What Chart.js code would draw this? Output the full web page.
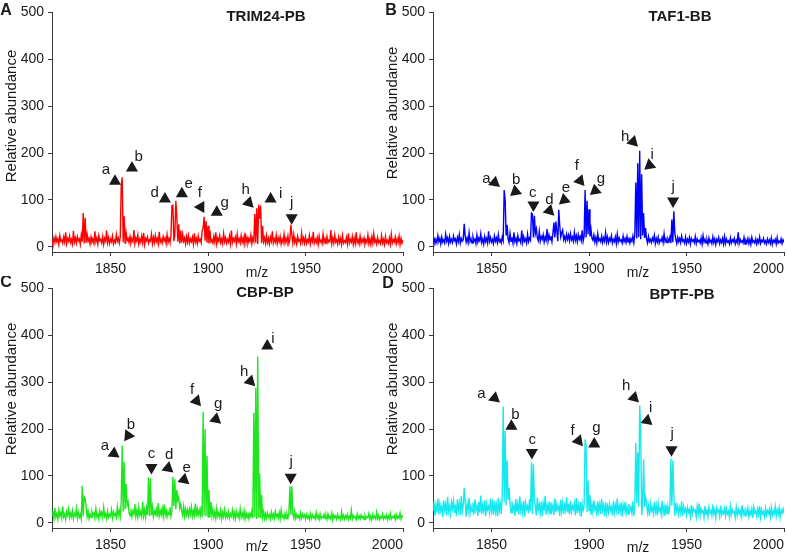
<!DOCTYPE html>
<html><head><meta charset="utf-8">
<script src="https://cdn.jsdelivr.net/npm/chart.js@4.4.1/dist/chart.umd.min.js"></script>
<style>
html,body{margin:0;padding:0;background:#fff;width:787px;height:552px;overflow:hidden;position:relative}
canvas{position:absolute}
</style></head><body>
<canvas id="cA" width="425" height="282" style="left:0;top:0"></canvas>
<canvas id="cB" width="425" height="282" style="left:381px;top:0"></canvas>
<canvas id="cC" width="425" height="282" style="left:0;top:276px"></canvas>
<canvas id="cD" width="425" height="282" style="left:381px;top:276px"></canvas>
<script>
// ---------- data ----------
const MZ0 = 1820, MZSTEP = 0.5;           // spectra sampled every 0.5 m/z from 1820
const xTicks = [1820, 1850, 1900, 1950, 2000];
const yTicks = [0, 100, 200, 300, 400, 500];

// A: TRIM24-PB
const trimNoise = [
14,6,19,9,22,11,17,5,24,12,15,8,21,10,31,7,18,12,23,9,
16,6,34,10,19,8,22,13,17,5,25,11,14,7,20,9,27,12,18,6,
21,10,15,7,33,11,19,6,24,13,16,8,22,5,18,12,35,9,20,7,
17,11,23,6,14,9,26,12,19,8,21,7,15,10,28,6,24,13,18,9,
22,8,16,11,36,7,19,12,25,6,17,10,23,9,30,5,18,13,21,8,
15,12,27,7,20,9,24,11,18,6,32,10,16,8,22,13,19,7,26,9,
18,10,23,6,17,12,25,8,20,11,33,7,16,9,27,12,19,6,22,10,
24,8,17,11,21,6,29,10,18,7,23,12,16,9,34,8,20,13,25,9,
19,7,26,11,15,8,22,10,31,6,18,12,24,9,17,7,28,11,20,8,
16,10,23,7,35,9,18,12,21,6,27,11,17,8,24,10,19,6,30,9,
20,8,17,11,25,7,19,12,22,9,18,6,26,10,16,8,23,11,19,7,
24,9,18,6,21,12,33,8,17,10,25,7,19,11,22,6,16,9,27,8,
18,10,23,7,16,11,20,8,26,9,17,6,22,12,15,7,29,10,19,8,
21,7,15,10,24,6,18,11,32,8,16,9,20,5,23,10,14,7,27,9,
17,6,22,9,14,11,36,7,19,8,25,10,15,6,21,9,18,5,24,8,
13,9,20,6,29,8,16,10,22,5,18,7,31,9,15,6,23,8,17,10,
19,6,14,9,25,7,17,5,21,8,28,10,15,6,20,9,13,7,24,8,
16,5,22,9,14,7,19,6,27,8,15,10,21,6,17,9,23,5,18,8,
14];
const trimPeakMz  = [1836,1837,1855.5,1856,1857,1858,1881.5,1882,1883.5,1884,1885,1886,1897.5,1898,1899,1900,1901,1924,1925,1926,1926.5,1927,1928,1942.5,1943];
const trimPeakVal = [72,  62,  130,   148, 65,  30,  88,    89,  98,    65,  48,  35,  40,    64,  55,  45,  35,  70,  82,  90,  60,    88,  45,  47,    26];
const trimMarks = [
 ['a',1852.3,140,30,1847.6,164],['b',1861.0,168,150,1864.5,191],['d',1877.9,102,30,1872.7,115],
 ['e',1886.6,113,150,1890.1,134],['f',1896.3,85,60,1895.8,115],['g',1904.5,74,150,1908.6,94],
 ['h',1920.9,94,45,1919.3,121],['i',1932.1,102,150,1937.3,113],['j',1942.9,62,90,1942.9,94]];

// B: TAF1-BB
const tafNoise = [
12,20,7,16,9,24,11,18,6,21,10,15,8,27,12,19,7,22,10,16,
9,23,13,17,6,20,11,26,8,18,12,15,7,24,10,19,9,30,11,17,
8,21,12,16,7,25,10,19,13,28,9,17,6,22,11,18,8,33,12,20,
10,16,7,23,12,19,9,26,11,15,8,21,13,18,6,24,10,17,9,29,
12,20,8,31,11,18,7,24,13,16,9,35,10,22,12,17,8,27,11,19,
14,24,10,20,15,28,11,19,13,33,12,22,16,26,10,21,14,38,12,25,
15,23,11,29,13,20,17,34,12,24,14,21,11,36,15,22,13,27,16,25,
13,28,15,21,12,31,14,24,11,26,16,22,13,35,12,23,15,20,11,27,
12,22,9,18,14,25,10,20,8,28,13,17,11,23,9,19,12,30,10,21,
9,18,13,24,8,16,11,21,7,27,10,19,12,15,8,23,11,18,9,22,
10,20,8,17,12,23,9,26,11,18,7,21,13,16,10,24,8,19,12,17,
8,22,11,16,9,19,13,25,7,18,10,21,8,15,12,20,9,28,11,17,
9,17,12,21,8,19,10,24,13,16,7,20,11,18,9,23,12,15,8,21,
7,16,10,20,6,18,12,15,9,22,7,17,11,14,8,19,6,24,10,16,
8,15,6,19,10,14,7,21,9,17,5,16,11,20,7,15,9,18,6,22,
7,17,10,13,6,19,8,15,11,18,6,14,9,31,7,16,10,13,8,20,
6,14,9,18,7,16,5,20,10,13,8,17,6,15,9,21,7,14,11,18,
8,13,6,17,9,15,7,19,5,14,10,16,6,20,8,12,9,17,7,15,
10];
const tafPeakMz  = [1836,1856.5,1857,1858,1870.5,1871,1872,1873,1882,1883,1884.5,1885,1886,1898,1899,1900,1901,1924,1925,1926,1927,1928,1929,1942.5,1943.5,1944];
const tafPeakVal = [49,  121,   100, 47,  72,    70,  66,  38,  52,  54,  79,    45,  30,  121, 98,  80,  38,  137, 178, 205, 155, 72,  40,  58,    76,    30];
const tafMarks = [
 ['a',1851.6,137,40,1847.4,146],['b',1862.3,118,140,1862.7,143],['c',1871.5,89,90,1871.2,116],
 ['d',1879.7,77,45,1879.7,101],['e',1887.3,100,140,1888.2,125],['f',1895.4,141,50,1893.8,173],
 ['g',1903.2,120,140,1906.1,145],['h',1922.6,224,45,1918.5,235],['i',1931.1,174,140,1932.4,196],
 ['j',1943.1,98,90,1943.1,128]];

// C: CBP-BP
const cbpNoise = [
15,25,9,32,12,20,8,27,14,22,10,35,13,19,7,24,16,29,11,21,
13,26,9,20,15,31,10,23,12,18,8,28,14,22,11,36,13,25,9,19,
12,24,16,21,10,30,13,19,8,26,15,22,11,33,14,20,9,25,12,18,
14,28,10,23,16,20,12,34,15,26,13,44,17,24,11,29,14,38,16,22,
15,30,13,25,18,40,14,27,12,33,16,24,13,45,15,28,11,32,17,26,
14,27,16,34,13,25,18,29,12,42,15,26,17,31,14,39,16,28,13,24,
17,33,14,27,19,36,15,29,16,48,18,31,13,26,16,35,14,30,17,28,
15,29,18,34,14,26,16,41,13,30,17,27,15,35,12,28,16,32,14,25,
13,26,11,22,15,29,12,24,10,31,14,21,12,27,9,23,13,28,11,20,
12,24,10,19,14,27,11,22,9,25,13,20,10,30,12,21,11,26,9,22,
11,22,9,20,13,25,10,18,12,23,8,21,11,26,10,19,12,24,9,20,
10,21,12,17,8,23,11,19,9,24,13,18,10,22,8,27,11,16,9,20,
9,19,11,22,8,17,12,20,10,25,9,18,11,16,8,21,10,19,12,17,
8,18,10,15,7,20,9,17,11,14,8,22,10,16,7,19,9,13,11,18,
9,16,7,19,10,14,8,21,6,17,11,15,8,18,10,13,7,24,9,16,
8,15,10,18,7,14,9,27,8,16,11,13,7,19,9,15,8,17,10,14,
7,16,9,13,11,20,8,15,6,18,10,14,8,23,9,16,7,13,10,19,
8,14,10,17,7,15,9,20,8,13,11,16,7,18,9,14,10,21,8,15,
12];
const cbpPeakMz  = [1835.5,1836.5,1837,1856,1857,1858,1859,1869.5,1870.5,1882,1883,1884,1885,1886,1897.5,1898.5,1899.5,1900.5,1901.5,1923.5,1924.5,1925.5,1926.5,1927.5,1942,1943];
const cbpPeakVal = [79,    56,    52,  165, 130, 83,  45,  97,    95,    98,  93,  70,  55,  40,  237,   200,   143,   70,    45,    235,   288,   355,   105,   60,    78,  78];
const cbpMarks = [
 ['a',1851.7,148,35,1847.1,165],['b',1859.1,186,125,1860.5,210],['c',1871.0,118,90,1871.0,147],
 ['d',1879.5,117,40,1880.1,146],['e',1887.7,92,160,1889.0,117],['f',1894.1,260,50,1891.8,283],
 ['g',1904.0,221,160,1905.2,253],['h',1921.7,302,45,1918.5,322],['i',1930.4,377,150,1933.3,393],
 ['j',1942.4,97,90,1942.7,129]];

// D: BPTF-PB
const bptfNoise = [
28,45,15,38,22,52,18,41,25,35,12,48,27,40,16,55,24,36,19,44,
30,47,21,39,14,50,26,42,17,57,23,37,29,46,13,40,25,53,20,35,
24,43,18,50,27,36,15,45,22,58,19,38,26,48,14,41,28,35,21,52,
26,42,17,47,23,38,14,53,25,40,19,60,22,44,28,37,16,49,24,39,
22,46,27,35,15,51,24,41,18,56,26,38,21,47,13,43,29,36,20,50,
25,40,19,48,23,35,16,54,27,39,21,45,14,42,26,57,18,37,24,46,
20,44,26,37,17,52,23,40,28,35,15,49,25,43,19,38,27,55,22,41,
18,47,24,36,29,42,16,53,21,39,25,45,13,41,27,36,20,50,23,38,
26,43,17,39,22,48,28,35,15,46,24,40,19,51,26,37,14,44,21,36,
23,41,27,34,16,47,22,38,25,52,18,36,24,43,13,39,26,45,20,35,
19,40,25,33,21,46,15,37,27,42,20,35,23,48,17,38,24,34,18,44,
22,36,14,42,26,33,19,45,23,38,16,41,25,31,18,47,21,35,15,39,
20,34,24,40,17,37,22,31,15,43,25,36,19,33,21,46,14,35,23,30,
16,33,22,28,13,38,20,31,24,27,12,35,19,41,15,30,22,26,11,36,
18,29,13,34,21,26,15,39,19,28,10,32,23,27,14,37,17,25,20,31,
14,30,19,25,12,35,17,28,22,24,11,33,16,29,20,26,13,38,18,27,
15,27,20,32,13,25,18,30,11,34,21,26,14,29,17,36,12,28,19,24,
13,31,17,26,20,29,12,33,16,25,19,35,14,28,18,32,11,27,21,30,
20];
const bptfPeakMz  = [1836,1856,1857,1858,1859,1870.5,1871.5,1872,1898,1898.5,1899.5,1900.5,1924,1925,1926,1926.5,1928,1929,1942,1943,1943.5];
const bptfPeakVal = [74,  248, 196, 133, 75,  129,   125,   45,  178, 165,   90,    60,    170, 150, 250, 200,   135, 55,  137, 133, 60];
const bptfMarks = [
 ['a',1851.6,266,40,1844.8,276],['b',1860.2,206,150,1862.3,231],['c',1870.7,150,90,1870.9,176],
 ['f',1894.6,175,50,1891.6,197],['g',1902.7,168,150,1903.8,203],['h',1923.1,267,45,1919.1,292],
 ['i',1929.8,218,160,1931.6,245],['j',1942.3,156,90,1942.6,189]];

// ---------- rendering ----------
const F = "'Liberation Sans', Arial, Helvetica, sans-serif";
const INK = '#1a1a1a', AX = '#3a3a3a';

function build(noise, pkMz, pkVal){
  const ys = noise.slice();
  pkMz.forEach((m,k)=>{ ys[Math.round((m-MZ0)/MZSTEP)] = pkVal[k]; });
  return ys.map((v,i)=>({x: MZ0 + i*MZSTEP, y: v}));
}

function decor(cfg){
  return {
    id: 'decor',
    afterDraw(chart){
      const ctx = chart.ctx, xs = chart.scales.x, ys = chart.scales.y, ca = chart.chartArea;
      ctx.save();
      ctx.fillStyle = INK; ctx.textAlign = 'center'; ctx.textBaseline = 'middle';
      ctx.font = 'bold 16px ' + F;
      ctx.fillText(cfg.letter, cfg.letterX, cfg.letterY);
      ctx.font = 'bold 15px ' + F;
      ctx.fillText(cfg.title, cfg.titleX, cfg.titleY);
      ctx.font = '14px ' + F;
      ctx.fillText('m/z', ca.left + 205, cfg.mzY);
      ctx.save();
      ctx.translate(12, cfg.yTitleY); ctx.rotate(-Math.PI/2);
      ctx.font = '15px ' + F;
      ctx.fillText('Relative abundance', 0, 0);
      ctx.restore();
      const R = 7;
      cfg.marks.forEach(m=>{
        const cx = xs.getPixelForValue(m[1]), cy = ys.getPixelForValue(m[2]);
        const a = m[3]*Math.PI/180;
        ctx.beginPath();
        for (let k=0;k<3;k++){
          const t = a + k*2*Math.PI/3;
          const px = cx + R*Math.cos(t), py = cy + R*Math.sin(t);
          if (k) ctx.lineTo(px,py); else ctx.moveTo(px,py);
        }
        ctx.closePath(); ctx.fill();
        ctx.font = '15px ' + F;
        ctx.fillText(m[0], xs.getPixelForValue(m[4]), ys.getPixelForValue(m[5]));
      });
      ctx.restore();
    }
  };
}

function makeChart(id, data, color, cfg){
  new Chart(document.getElementById(id), {
    type: 'line',
    data: { datasets: [{ data: data, borderColor: color, borderWidth: 1.4, pointRadius: 0, tension: 0, fill: false }] },
    options: {
      responsive: false, animation: false, devicePixelRatio: 1,
      layout: { padding: { top: 11, right: 22, left: 0, bottom: 0 } },
      plugins: { legend: { display: false }, tooltip: { enabled: false } },
      scales: {
        x: {
          type: 'linear', min: 1820, max: 2000,
          afterBuildTicks: s => { s.ticks = xTicks.map(v => ({ value: v })); },
          afterFit: s => { s.height = 30; },
          ticks: { align: 'inner', padding: 5, color: INK, autoSkip: false, maxRotation: 0,
                   font: { size: 14, family: F }, callback: v => (v === 1820 ? '' : String(v)) },
          grid: { drawOnChartArea: false, tickLength: 4, color: AX },
          border: { color: AX, width: 1 }
        },
        y: {
          min: -11, max: 500,
          afterBuildTicks: s => { s.ticks = yTicks.map(v => ({ value: v })); },
          afterFit: s => { s.width = 52; },
          ticks: { padding: 4, color: INK, font: { size: 14, family: F } },
          grid: { drawOnChartArea: false, tickLength: 4, color: AX },
          border: { color: AX, width: 1 }
        }
      }
    },
    plugins: [decor(cfg)]
  });
}

makeChart('cA', build(trimNoise, trimPeakMz, trimPeakVal), '#ff0000',
  { letter: 'A', letterX: 6, letterY: 11, title: 'TRIM24-PB', titleX: 266, titleY: 17, yTitleY: 116, mzY: 273, marks: trimMarks });
makeChart('cB', build(tafNoise, tafPeakMz, tafPeakVal), '#0000ff',
  { letter: 'B', letterX: 10, letterY: 11, title: 'TAF1-BB', titleX: 299, titleY: 17, yTitleY: 113, mzY: 273, marks: tafMarks });
makeChart('cC', build(cbpNoise, cbpPeakMz, cbpPeakVal), '#1ee61e',
  { letter: 'C', letterX: 6, letterY: 7, title: 'CBP-BP', titleX: 265, titleY: 17, yTitleY: 113, mzY: 271, marks: cbpMarks });
makeChart('cD', build(bptfNoise, bptfPeakMz, bptfPeakVal), '#17e8ef',
  { letter: 'D', letterX: 7, letterY: 8, title: 'BPTF-PB', titleX: 301, titleY: 19, yTitleY: 113, mzY: 272, marks: bptfMarks });
</script>
</body></html>
